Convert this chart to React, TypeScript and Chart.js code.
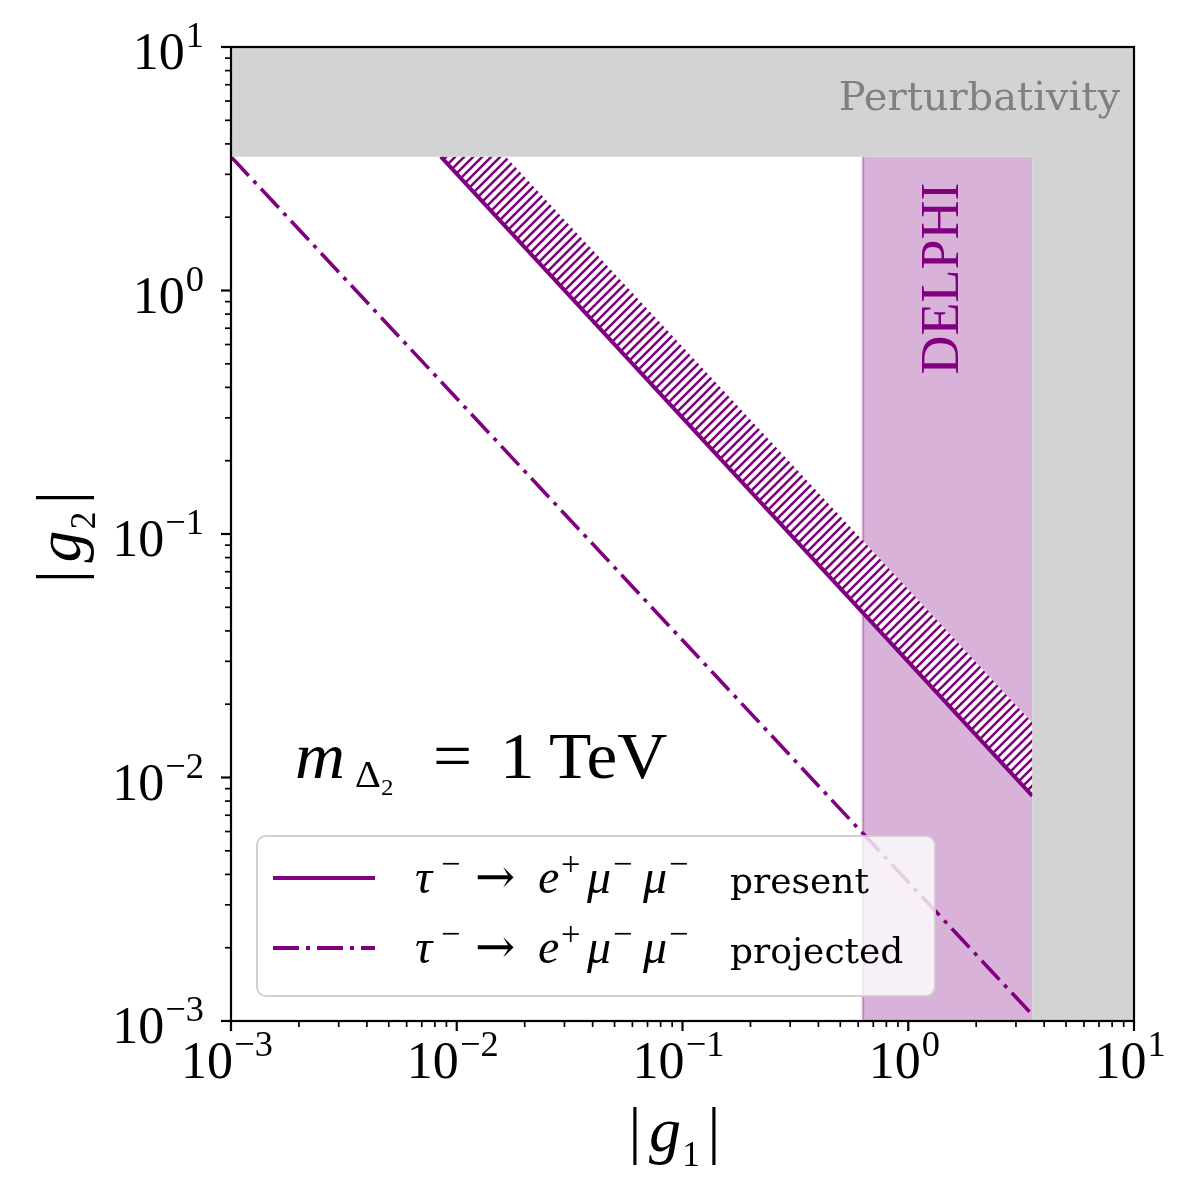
import React, { useEffect, useRef } from 'react';
import { Chart, registerables } from 'chart.js';

Chart.register(...registerables);

// ---- axis definition ----
const axisMin = 1e-3;
const axisMax = 10;
const decadeValues = [1e-3, 1e-2, 1e-1, 1, 10];
const decadeExponents = ['−3', '−2', '−1', '0', '1'];
const minorMultipliers = [2, 3, 4, 5, 6, 7, 8, 9];

// ---- constraint boundaries ----
const perturbativityLimit = 3.545;
const delphiMinG1 = 0.63;

// present bound  (solid)
const presentG1 = [0.0085, 3.545];
const presentG2 = [3.545, 0.0084];
// upper edge of hatched band
const hatchEdgeG1 = [0.0165, 3.545];
const hatchEdgeG2 = [3.545, 0.0168];
// projected bound (dash-dot)
const projectedG1 = [0.001, 3.545];
const projectedG2 = [3.545, 0.00106];

const legendLabels = ['present', 'projected'];

const PURPLE = '#800080';
const MATH = '"Liberation Serif", serif';
const WORD = '"DejaVu Serif", serif';
const DASHDOT = [26, 7, 4, 7];

type Seg = { t: string; it?: boolean; s?: number; dy?: number; gap?: number; at?: number; fam?: string };

function drawRich(
  ctx: CanvasRenderingContext2D,
  segs: Seg[],
  x: number,
  y: number,
  size: number,
  o: { align?: 'left' | 'center' | 'right'; color?: string; fam?: string; stretch?: number; rotate?: number } = {}
) {
  const fam = o.fam ?? MATH;
  const stretch = o.stretch ?? 1;
  const items: { font: string; x: number; dy: number; t: string }[] = [];
  let w = 0;
  for (const sg of segs) {
    const fs = size * (sg.s ?? 1);
    const font = `${sg.it ? 'italic ' : ''}${fs}px ${sg.fam ?? fam}`;
    ctx.font = font;
    if (sg.at !== undefined) w = sg.at;
    else w += (sg.gap ?? 0) * size;
    items.push({ font, x: w, dy: (sg.dy ?? 0) * size, t: sg.t });
    w += ctx.measureText(sg.t).width * stretch;
  }
  const align = o.align ?? 'left';
  const x0 = align === 'left' ? 0 : align === 'center' ? -w / 2 : -w;
  ctx.save();
  ctx.translate(x, y);
  if (o.rotate) ctx.rotate(o.rotate);
  ctx.fillStyle = o.color ?? '#000';
  ctx.textAlign = 'left';
  ctx.textBaseline = 'alphabetic';
  for (const it of items) {
    ctx.save();
    ctx.translate(x0 + it.x, it.dy);
    ctx.scale(stretch, 1);
    ctx.font = it.font;
    ctx.fillText(it.t, 0, 0);
    ctx.restore();
  }
  ctx.restore();
}

function makeHatch(): CanvasPattern | string {
  const s = 9;
  const c = document.createElement('canvas');
  c.width = s;
  c.height = s;
  const g = c.getContext('2d');
  if (!g) return '#fff';
  g.fillStyle = '#fff';
  g.fillRect(0, 0, s, s);
  g.strokeStyle = PURPLE;
  g.lineWidth = 2.6;
  g.beginPath();
  for (const k of [0, s, 2 * s]) {
    g.moveTo(k + 3, -3);
    g.lineTo(-3, k + 3);
  }
  g.stroke();
  return g.createPattern(c, 'repeat') ?? '#fff';
}

const pts = (xs: number[], ys: number[]) => xs.map((x, i) => ({ x, y: ys[i] }));

const overlay = {
  id: 'overlay',
  afterDatasetsDraw(chart: any) {
    const ctx: CanvasRenderingContext2D = chart.ctx;
    const a = chart.chartArea;
    const xs = chart.scales.x;
    const ys = chart.scales.y;

    // annotations
    drawRich(ctx, [{ t: 'Perturbativity' }], a.right - 14, ys.getPixelForValue(5.5), 40, {
      align: 'right',
      color: '#808080',
      fam: WORD,
    });
    drawRich(ctx, [{ t: 'DELPHI' }], xs.getPixelForValue(1.66), ys.getPixelForValue(1.12), 54, {
      align: 'center',
      color: PURPLE,
      rotate: -Math.PI / 2,
    });
    drawRich(
      ctx,
      [
        { t: 'm', it: true },
        { t: 'Δ', s: 0.58, dy: 0.15, at: 60 },
        { t: '2', s: 0.36, dy: 0.26, at: 86 },
        { t: '=', at: 138 },
        { t: '1', at: 205 },
        { t: 'TeV', at: 254 },
      ],
      xs.getPixelForValue(0.00192),
      ys.getPixelForValue(0.01),
      66,
      { stretch: 1.05 }
    );

    // frame
    ctx.save();
    ctx.strokeStyle = '#000';
    ctx.lineWidth = 2.2;
    ctx.strokeRect(a.left, a.top, a.right - a.left, a.bottom - a.top);

    // ticks
    const tick = (horizontal: boolean, p: number, len: number, lw: number) => {
      ctx.lineWidth = lw;
      ctx.beginPath();
      if (horizontal) {
        ctx.moveTo(p, a.bottom);
        ctx.lineTo(p, a.bottom + len);
      } else {
        ctx.moveTo(a.left, p);
        ctx.lineTo(a.left - len, p);
      }
      ctx.stroke();
    };
    for (const d of decadeValues) {
      tick(true, xs.getPixelForValue(d), 10, 2.2);
      tick(false, ys.getPixelForValue(d), 10, 2.2);
      if (d < axisMax) {
        for (const m of minorMultipliers) {
          tick(true, xs.getPixelForValue(m * d), 6, 1.7);
          tick(false, ys.getPixelForValue(m * d), 6, 1.7);
        }
      }
    }
    ctx.restore();

    // tick labels
    decadeValues.forEach((d, i) => {
      const segs: Seg[] = [{ t: '10' }, { t: decadeExponents[i], s: 0.7, dy: -0.42, gap: 0.02 }];
      drawRich(ctx, segs, xs.getPixelForValue(d) - 4, a.bottom + 57, 52, { align: 'center' });
      drawRich(ctx, segs, a.left - 27, ys.getPixelForValue(d) + 22, 52, { align: 'right' });
    });

    // axis titles
    drawRich(
      ctx,
      [{ t: '|' }, { t: 'g', it: true, gap: 0.12 }, { t: '1', s: 0.55, dy: 0.23, gap: 0.02 }, { t: '|', gap: 0.12 }],
      (a.left + a.right) / 2 - 8,
      a.bottom + 130,
      64,
      { align: 'center' }
    );
    drawRich(
      ctx,
      [{ t: '|' }, { t: 'g', it: true, gap: 0.12 }, { t: '2', s: 0.55, dy: 0.23, gap: 0.02 }, { t: '|', gap: 0.12 }],
      80,
      (a.top + a.bottom) / 2 + 3,
      64,
      { align: 'center', rotate: -Math.PI / 2 }
    );

    // legend
    const lx = a.left + 26;
    const ly = a.bottom - 185;
    const lw = 678;
    const lh = 160;
    ctx.save();
    ctx.beginPath();
    ctx.roundRect(lx, ly, lw, lh, 9);
    ctx.fillStyle = 'rgba(255,255,255,0.8)';
    ctx.fill();
    ctx.strokeStyle = 'rgba(204,204,204,0.9)';
    ctx.lineWidth = 2;
    ctx.stroke();
    legendLabels.forEach((label, i) => {
      const cy = ly + 42 + i * 70;
      ctx.save();
      ctx.strokeStyle = PURPLE;
      ctx.lineWidth = 4;
      ctx.setLineDash(i === 0 ? [] : DASHDOT);
      ctx.beginPath();
      ctx.moveTo(lx + 16, cy);
      ctx.lineTo(lx + 118, cy);
      ctx.stroke();
      ctx.restore();
      drawRich(
        ctx,
        [
          { t: 'τ', it: true },
          { t: '−', s: 0.72, dy: -0.38, at: 26 },
          { t: '→', fam: WORD, at: 60 },
          { t: 'e', it: true, at: 123 },
          { t: '+', s: 0.72, dy: -0.38, at: 146 },
          { t: 'μ', it: true, at: 172 },
          { t: '−', s: 0.72, dy: -0.38, at: 198 },
          { t: 'μ', it: true, at: 228 },
          { t: '−', s: 0.72, dy: -0.38, at: 254 },
          { t: label, fam: WORD, s: 36 / 48, at: 315 },
        ],
        lx + 158,
        cy + 15,
        48
      );
    });
    ctx.restore();
  },
};

export default function App() {
  const ref = useRef<HTMLCanvasElement>(null);
  useEffect(() => {
    const canvas = ref.current;
    if (!canvas) return;
    const hatch = makeHatch();
    const P = perturbativityLimit;
    const chart = new Chart(canvas, {
      type: 'scatter',
      data: {
        datasets: [
          {
            label: 'Perturbativity',
            data: [
              { x: axisMin, y: axisMax },
              { x: axisMax, y: axisMax },
              { x: axisMax, y: axisMin },
              { x: P, y: axisMin },
              { x: P, y: P },
              { x: axisMin, y: P },
            ],
            showLine: true,
            fill: 'shape',
            backgroundColor: '#d3d3d3',
            borderColor: 'rgba(0,0,0,0)',
            borderWidth: 0,
            pointRadius: 0,
            order: 0,
          },
          {
            label: 'present',
            data: pts(presentG1, presentG2),
            showLine: true,
            fill: false,
            borderColor: PURPLE,
            borderWidth: 4,
            pointRadius: 0,
            order: 1,
          },
          {
            label: 'projected',
            data: pts(projectedG1, projectedG2),
            showLine: true,
            fill: false,
            borderColor: PURPLE,
            borderWidth: 3.6,
            borderDash: DASHDOT,
            pointRadius: 0,
            order: 1,
          },
          {
            label: 'hatch',
            data: [...pts(presentG1, presentG2), ...pts(hatchEdgeG1, hatchEdgeG2).reverse()],
            showLine: true,
            fill: 'shape',
            backgroundColor: hatch as any,
            borderColor: 'rgba(0,0,0,0)',
            borderWidth: 0,
            pointRadius: 0,
            order: 2,
          },
          {
            label: 'DELPHI edge',
            data: [
              { x: delphiMinG1, y: axisMin },
              { x: delphiMinG1, y: P },
            ],
            showLine: true,
            fill: false,
            borderColor: 'rgba(128,0,128,0.3)',
            borderWidth: 2.5,
            pointRadius: 0,
            order: 3,
          },
          {
            label: 'DELPHI',
            data: [
              { x: delphiMinG1, y: axisMin },
              { x: P, y: axisMin },
              { x: P, y: P },
              { x: delphiMinG1, y: P },
            ],
            showLine: true,
            fill: 'shape',
            backgroundColor: 'rgba(128,0,128,0.3)',
            borderColor: 'rgba(0,0,0,0)',
            borderWidth: 0,
            pointRadius: 0,
            order: 4,
          },
        ],
      },
      options: {
        animation: false,
        responsive: false,
        maintainAspectRatio: false,
        layout: { padding: { left: 231, right: 66, top: 47, bottom: 179 } },
        plugins: { legend: { display: false }, tooltip: { enabled: false } },
        scales: {
          x: { type: 'logarithmic', min: axisMin, max: axisMax, display: false },
          y: { type: 'logarithmic', min: axisMin, max: axisMax, display: false },
        },
      },
      plugins: [overlay],
    } as any);
    let alive = true;
    (document as any).fonts?.ready?.then(() => {
      if (alive) chart.draw();
    });
    return () => {
      alive = false;
      chart.destroy();
    };
  }, []);
  return (
    <div style={{ position: 'fixed', left: 0, top: 0, width: 1200, height: 1200, background: '#fff' }}>
      <canvas ref={ref} width={1200} height={1200} style={{ display: 'block', width: 1200, height: 1200 }} />
    </div>
  );
}
